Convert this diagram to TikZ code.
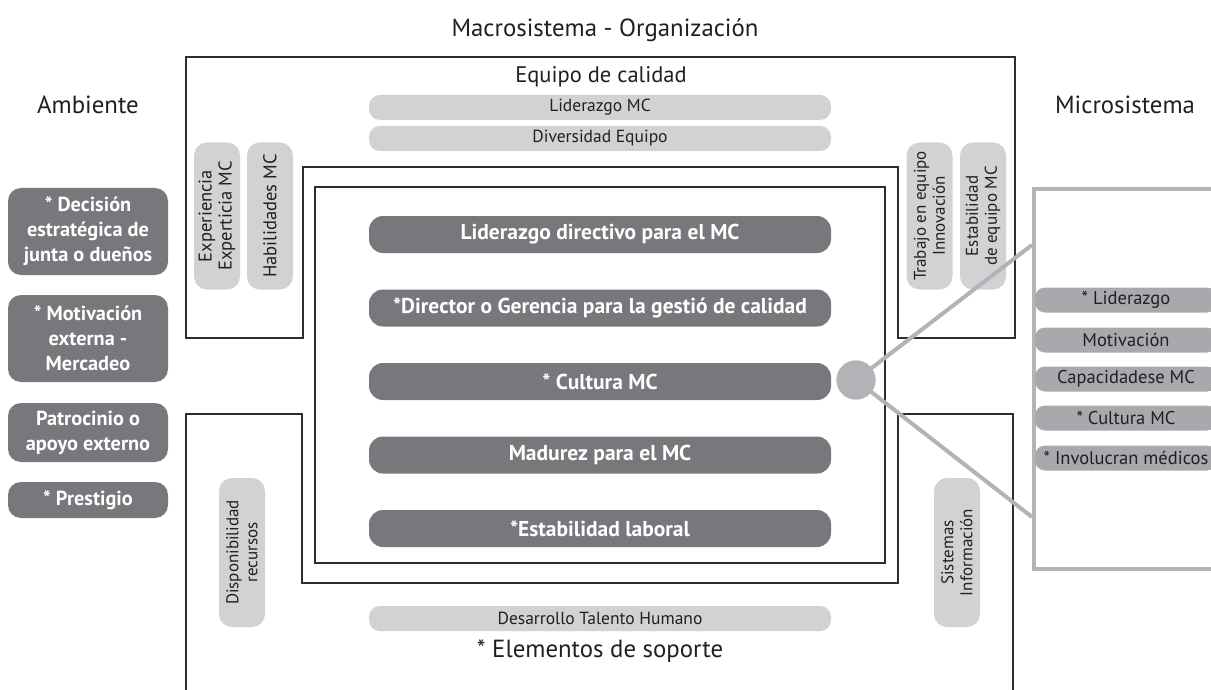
\documentclass[tikz,border=0pt]{standalone}
\usepackage{fontspec}
\setmainfont{PT Sans}
\definecolor{darkpill}{RGB}{119,120,123}
\definecolor{lightpill}{RGB}{209,210,212}
\definecolor{midpill}{RGB}{168,169,172}
\definecolor{linkgray}{RGB}{177,179,182}
\definecolor{frameline}{RGB}{45,45,45}
\definecolor{txt}{RGB}{35,31,32}
\begin{document}
\begin{tikzpicture}[x=1pt,y=-1pt,
  framepath/.style={draw=frameline, line width=1.1pt},
  darkbar/.style={fill=darkpill, rounded corners=14pt, minimum width=462pt, minimum height=37pt, inner sep=0pt, text=white, font=\fontsize{21.5}{23}\selectfont\bfseries},
  sidebar/.style={fill=darkpill, rounded corners=13pt, minimum width=160pt, inner sep=0pt, text=white, align=center, font=\fontsize{20.3}{25}\selectfont\bfseries},
  lightbar/.style={fill=lightpill, rounded corners=11pt, minimum width=462pt, minimum height=25pt, inner sep=0pt, text=txt, font=\fontsize{17.5}{19}\selectfont},
  vbar/.style={fill=lightpill, rounded corners=13pt, minimum width=147pt, minimum height=46pt, inner sep=0pt, rotate=90, align=center, text=txt, font=\fontsize{17}{19}\selectfont},
  micropill/.style={fill=midpill, rounded corners=10pt, minimum width=182pt, minimum height=25pt, inner sep=0pt, text=txt, font=\fontsize{18.5}{20}\selectfont},
  title/.style={text=txt, inner sep=0pt, font=\fontsize{24.8}{26}\selectfont},
  linkline/.style={draw=linkgray, line width=4pt},
]
\clip (0,0) rectangle (1211,690);
\fill[white] (0,0) rectangle (1211,690);

% titles
\node[title] (macro) at (605,30) {Macrosistema - Organización};
\node[title] (amb) at (88,105) {Ambiente};
\node[title] (microt) at (1125,105) {Microsistema};
\node[title, font=\fontsize{22.5}{24}\selectfont] (equipo) at (601,77) {Equipo de calidad};
\node[title] (soporte) at (600,651) {* Elementos de soporte};

% frames
\draw[framepath] (186,338) -- (186,57) -- (1015,57) -- (1015,338) -- (898,338) -- (898,167) -- (303,167) -- (303,338) -- cycle;
\draw[framepath] (186,700) -- (186,414) -- (302,414) -- (302,583) -- (898,583) -- (898,414) -- (1013,414) -- (1013,700);
\draw[framepath] (315,187) rectangle (885,563);

% light horizontal bars
\node[lightbar] (lid) at (600,107.5) {Liderazgo MC};
\node[lightbar] (div) at (600,138.5) {Diversidad Equipo};
\node[lightbar] (des) at (600,618.5) {Desarrollo Talento Humano};

% vertical bars
\node[vbar, font=\fontsize{18.5}{20}\selectfont] (exp) at (217,216) {Experiencia\\Experticia MC};
\node[vbar, font=\fontsize{18.5}{20}\selectfont] (hab) at (270,216) {Habilidades MC};
\node[vbar] (trab) at (929.5,216) {Trabajo en equipo\\Innovación};
\node[vbar] (estab) at (983,216) {Estabilidad\\de equipo MC};
\node[vbar, minimum width=149pt] (disp) at (242,552.5) {Disponibilidad\\recursos};
\node[vbar, minimum width=149pt] (sist) at (957,552.5) {Sistemas\\Información};

% central dark bars
\node[darkbar] (b1) at (600,234.5) {Liderazgo directivo para el MC};
\node[darkbar] (b2) at (600,308) {*Director o Gerencia para la gestió de calidad};
\node[darkbar] (b3) at (600,381.5) {* Cultura MC};
\node[darkbar] (b4) at (600,455) {Madurez para el MC};
\node[darkbar] (b5) at (600,528.5) {*Estabilidad laboral};

% left environment bars
\node[sidebar, minimum height=87pt] (e1) at (88,231.5) {* Decisión\\estratégica de\\junta o dueños};
\node[sidebar, minimum height=87pt] (e2) at (88,338.5) {* Motivación\\externa -\\Mercadeo};
\node[sidebar, minimum height=59pt] (e3) at (88,432.5) {Patrocinio o\\apoyo externo};
\node[sidebar, minimum height=36pt] (e4) at (88,500) {* Prestigio};

% microsystem box
\node[draw=linkgray, line width=4pt, anchor=north west, minimum width=200pt, minimum height=380pt, inner sep=0pt] (micro) at (1032,187) {};
\coordinate (m1) at (1032,245);
\coordinate (m2) at (1032,517);

% connector circle
\node[circle, fill=linkgray, minimum size=39pt, inner sep=0pt] (circ) at (856,380) {};
\draw[linkline] (circ.center) -- (m1);
\draw[linkline] (circ.center) -- (m2);
\node[circle, fill=linkgray, minimum size=39pt, inner sep=0pt] at (circ) {};

% microsystem pills
\node[micropill] (p1) at (1126,300) {* Liderazgo};
\node[micropill] (p2) at (1126,340) {Motivación};
\node[micropill] (p3) at (1126,379) {Capacidadese MC};
\node[micropill] (p4) at (1126,418) {* Cultura MC};
\node[micropill] (p5) at (1126,458) {* Involucran médicos};
\end{tikzpicture}
\end{document}
